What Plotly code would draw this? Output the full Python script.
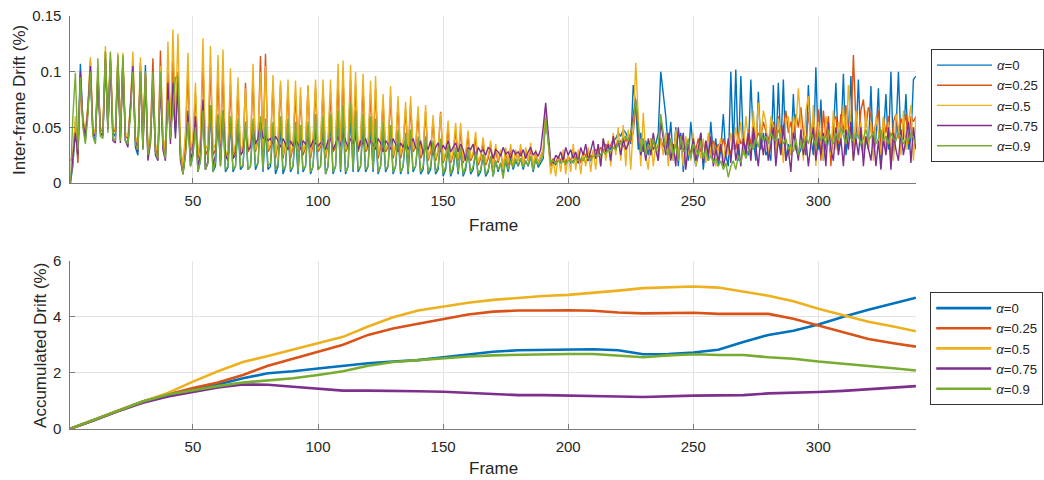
import plotly.graph_objects as go

# ---------------- data ----------------
alpha_labels = ["0", "0.25", "0.5", "0.75", "0.9"]
colors = ["#0072BD", "#D95319", "#EDB120", "#7E2F8E", "#77AC30"]

x_ticks = [50, 100, 150, 200, 250, 300]
top_y_ticks = [0, 0.05, 0.1, 0.15]
top_y_text = ["0", "0.05", "0.1", "0.15"]
bot_y_ticks = [0, 2, 4, 6]

# Inter-frame drift, in thousandths of a percent (frame 1, 2, 3, ...)
inter_a0 = [
    0, 15, 50, 22, 107, 55, 38, 65, 100, 45, 36, 95, 45, 42, 110, 48, 108, 45, 42, 110,
    40, 110, 38, 35, 65, 105, 32, 25, 105, 32, 106, 28, 38, 90, 28, 25, 95, 35, 25, 90,
    40, 80, 45, 88, 25, 8, 30, 65, 15, 25, 55, 10, 20, 70, 12, 18, 65, 10, 15, 60,
    15, 60, 10, 14, 55, 10, 15, 50, 12, 15, 55, 12, 15, 50, 12, 18, 55, 10, 50, 12,
    15, 48, 8, 15, 50, 8, 15, 48, 10, 15, 45, 8, 45, 10, 15, 50, 8, 15, 50, 12,
    15, 50, 8, 15, 55, 8, 15, 60, 10, 55, 8, 15, 60, 10, 55, 10, 15, 50, 10, 15,
    50, 10, 48, 8, 15, 45, 10, 15, 48, 8, 15, 42, 8, 15, 40, 8, 42, 10, 15, 38,
    8, 12, 40, 8, 12, 36, 8, 12, 38, 6, 12, 32, 6, 12, 30, 8, 30, 6, 12, 28,
    8, 12, 28, 6, 10, 25, 6, 10, 24, 6, 20, 10, 18, 8, 20, 10, 22, 12, 20, 15,
    22, 12, 20, 15, 24, 10, 22, 14, 18, 22, 60, 35, 15, 20, 16, 22, 18, 20, 16, 22,
    18, 20, 22, 18, 20, 24, 18, 22, 20, 25, 22, 28, 25, 30, 28, 35, 30, 38, 40, 45,
    42, 48, 45, 40, 35, 88, 70, 30, 45, 28, 38, 25, 40, 30, 35, 45, 100, 80, 60, 30,
    55, 20, 50, 15, 45, 10, 40, 20, 55, 30, 15, 25, 45, 12, 35, 20, 55, 25, 40, 15,
    30, 62, 25, 15, 100, 30, 102, 20, 96, 35, 30, 25, 93, 40, 20, 82, 30, 45, 25, 30,
    20, 88, 25, 90, 30, 93, 20, 35, 25, 80, 30, 25, 30, 40, 25, 88, 40, 25, 104, 30,
    75, 20, 35, 40, 25, 45, 90, 30, 40, 98, 25, 45, 96, 30, 40, 93, 35, 25, 40, 30,
    87, 25, 40, 85, 20, 40, 80, 30, 100, 25, 45, 100, 35, 40, 80, 30, 40, 93, 96,
]
inter_a025 = [
    20, 25, 55, 18, 90, 55, 45, 65, 110, 48, 45, 98, 48, 46, 118, 52, 112, 48, 46, 112,
    42, 112, 42, 40, 68, 110, 38, 30, 108, 36, 98, 25, 42, 112, 32, 22, 119, 40, 25, 100,
    45, 110, 50, 100, 30, 12, 40, 100, 28, 35, 80, 22, 35, 110, 25, 30, 105, 25, 30, 95,
    30, 100, 22, 28, 88, 22, 30, 85, 25, 30, 90, 28, 32, 95, 28, 38, 114, 28, 116, 28,
    32, 90, 22, 35, 88, 22, 35, 85, 22, 32, 80, 28, 78, 25, 32, 87, 22, 35, 85, 28,
    32, 85, 22, 35, 80, 28, 32, 90, 28, 95, 28, 32, 92, 28, 88, 28, 35, 85, 28, 32,
    80, 28, 85, 22, 32, 72, 28, 32, 78, 22, 32, 70, 22, 32, 66, 22, 70, 28, 32, 62,
    22, 28, 64, 20, 28, 56, 20, 28, 64, 18, 25, 50, 18, 25, 48, 20, 48, 18, 25, 42,
    20, 25, 40, 16, 22, 36, 16, 22, 34, 14, 30, 18, 28, 14, 28, 16, 30, 16, 28, 20,
    30, 16, 28, 20, 30, 14, 28, 18, 24, 28, 62, 38, 15, 22, 18, 24, 20, 26, 18, 24,
    20, 28, 22, 26, 18, 28, 24, 30, 22, 28, 30, 26, 32, 28, 35, 30, 34, 40, 30, 36,
    38, 32, 40, 35, 38, 45, 70, 50, 30, 40, 28, 35, 25, 38, 30, 28, 40, 32, 38, 28,
    40, 30, 35, 25, 42, 28, 35, 30, 25, 38, 30, 40, 28, 35, 30, 42, 32, 38, 30, 35,
    28, 40, 30, 35, 25, 42, 30, 45, 35, 40, 30, 48, 35, 50, 38, 45, 40, 55, 45, 38,
    50, 55, 40, 60, 35, 50, 65, 45, 55, 40, 62, 50, 68, 45, 30, 64, 40, 60, 35, 66,
    20, 65, 40, 60, 15, 55, 60, 35, 62, 45, 70, 50, 40, 115, 55, 40, 65, 75, 50, 68,
    60, 40, 55, 65, 30, 58, 45, 60, 20, 55, 62, 40, 58, 50, 62, 35, 60, 55, 60,
]
inter_a05 = [
    0, 20, 60, 25, 90, 60, 45, 70, 113, 50, 45, 100, 50, 48, 123, 55, 116, 50, 48, 117,
    45, 117, 45, 42, 70, 118, 42, 35, 113, 40, 100, 32, 45, 95, 35, 28, 105, 42, 30, 127,
    50, 138, 55, 134, 35, 15, 45, 117, 30, 40, 90, 25, 40, 130, 30, 35, 123, 30, 35, 115,
    35, 120, 25, 30, 103, 25, 35, 95, 28, 35, 85, 30, 35, 107, 30, 40, 100, 30, 105, 30,
    35, 97, 25, 40, 92, 25, 38, 93, 25, 35, 92, 30, 86, 28, 35, 88, 25, 40, 93, 30,
    35, 93, 25, 40, 93, 30, 35, 107, 30, 110, 30, 35, 106, 30, 100, 30, 40, 98, 30, 35,
    92, 30, 96, 25, 35, 80, 30, 35, 87, 25, 35, 78, 25, 35, 73, 25, 78, 30, 35, 69,
    25, 30, 70, 22, 30, 61, 22, 30, 63, 20, 28, 56, 20, 28, 54, 22, 54, 20, 28, 47,
    22, 28, 46, 18, 25, 41, 18, 25, 38, 15, 35, 20, 30, 12, 32, 18, 35, 15, 30, 20,
    35, 15, 32, 20, 36, 12, 30, 18, 25, 30, 68, 40, 8, 20, 6, 25, 10, 30, 8, 25,
    10, 35, 12, 30, 8, 28, 15, 32, 10, 30, 12, 35, 15, 40, 20, 38, 15, 45, 25, 50,
    20, 52, 15, 48, 12, 50, 108, 60, 15, 63, 25, 12, 40, 15, 35, 20, 40, 25, 45, 15,
    40, 20, 48, 25, 38, 15, 42, 28, 20, 45, 15, 35, 22, 40, 18, 45, 25, 35, 15, 30,
    40, 20, 35, 25, 45, 30, 50, 35, 55, 25, 60, 40, 20, 65, 35, 72, 40, 65, 55, 20,
    60, 50, 25, 58, 45, 18, 55, 60, 25, 60, 50, 85, 55, 20, 65, 78, 30, 70, 15, 55,
    40, 20, 60, 45, 25, 65, 30, 55, 40, 70, 35, 88, 50, 20, 65, 40, 55, 25, 65, 30,
    55, 20, 60, 45, 25, 60, 30, 55, 40, 20, 62, 50, 25, 65, 30, 55, 70, 20, 60,
]
inter_a075 = [
    0, 20, 45, 25, 100, 55, 42, 65, 105, 45, 42, 95, 45, 43, 112, 48, 110, 38, 36, 108,
    36, 110, 38, 32, 65, 105, 38, 28, 100, 30, 95, 20, 35, 95, 25, 20, 90, 30, 20, 90,
    35, 90, 40, 90, 20, 8, 25, 60, 20, 30, 60, 15, 25, 75, 12, 20, 70, 15, 25, 60,
    20, 65, 25, 20, 55, 22, 25, 50, 25, 28, 48, 30, 32, 50, 35, 40, 55, 40, 42, 38,
    40, 35, 42, 38, 32, 40, 35, 30, 38, 33, 40, 35, 30, 38, 35, 40, 32, 38, 35, 33,
    36, 35, 30, 38, 40, 30, 35, 42, 33, 45, 38, 32, 40, 35, 42, 30, 38, 35, 40, 32,
    38, 35, 30, 40, 36, 28, 38, 35, 30, 40, 35, 28, 36, 32, 38, 30, 35, 40, 32, 30,
    38, 26, 35, 30, 38, 25, 32, 36, 28, 34, 30, 38, 28, 32, 36, 28, 35, 30, 20, 32,
    30, 35, 22, 32, 28, 30, 25, 32, 30, 22, 30, 28, 24, 32, 26, 28, 22, 30, 26, 28,
    24, 30, 22, 28, 32, 25, 28, 24, 30, 50, 72, 45, 20, 18, 25, 22, 28, 20, 32, 25,
    30, 22, 28, 18, 32, 25, 35, 20, 30, 38, 22, 35, 15, 40, 28, 35, 20, 42, 30, 38,
    25, 40, 30, 35, 45, 60, 75, 45, 25, 35, 20, 40, 25, 45, 30, 20, 55, 40, 25, 45,
    20, 35, 15, 50, 30, 45, 12, 35, 25, 40, 20, 30, 45, 18, 38, 25, 42, 15, 30, 20,
    35, 15, 25, 40, 18, 45, 20, 35, 15, 40, 25, 45, 20, 50, 30, 15, 42, 25, 45, 20,
    35, 50, 15, 40, 25, 52, 20, 30, 10, 45, 35, 20, 48, 25, 40, 15, 35, 50, 20, 40,
    25, 45, 15, 55, 30, 20, 50, 25, 40, 15, 48, 30, 55, 20, 40, 25, 50, 15, 42, 30,
    20, 45, 15, 38, 12, 40, 25, 50, 12, 45, 30, 20, 48, 25, 40, 55, 18, 50, 30,
]
inter_a09 = [
    0, 60, 99, 30, 95, 50, 35, 60, 100, 42, 35, 112, 42, 40, 118, 45, 118, 40, 38, 115,
    38, 115, 38, 35, 60, 100, 35, 30, 100, 30, 100, 25, 35, 100, 28, 22, 100, 35, 22, 75,
    40, 65, 95, 95, 25, 8, 25, 55, 15, 25, 50, 10, 20, 65, 12, 18, 70, 10, 20, 62,
    15, 65, 12, 15, 60, 12, 15, 58, 15, 15, 55, 12, 15, 58, 15, 18, 60, 12, 58, 15,
    18, 55, 12, 18, 60, 12, 15, 58, 12, 15, 55, 10, 52, 12, 15, 55, 10, 15, 62, 12,
    15, 60, 8, 15, 62, 10, 15, 65, 12, 70, 10, 15, 72, 12, 65, 12, 15, 62, 12, 15,
    60, 12, 58, 10, 15, 55, 12, 15, 52, 10, 15, 48, 10, 15, 45, 10, 48, 12, 15, 42,
    10, 15, 42, 10, 15, 38, 10, 15, 40, 8, 15, 35, 8, 15, 32, 10, 32, 8, 15, 30,
    10, 15, 28, 8, 12, 26, 8, 12, 24, 6, 20, 12, 18, 4, 22, 12, 20, 14, 22, 16,
    22, 14, 20, 16, 24, 12, 22, 16, 20, 25, 58, 40, 18, 20, 18, 20, 18, 20, 18, 20,
    20, 18, 22, 20, 22, 20, 24, 22, 22, 24, 25, 24, 26, 28, 26, 30, 28, 32, 30, 38,
    35, 40, 42, 38, 45, 55, 75, 50, 28, 40, 25, 35, 30, 40, 28, 35, 62, 45, 30, 25,
    40, 25, 35, 20, 42, 28, 30, 40, 22, 35, 30, 25, 38, 22, 30, 20, 25, 18, 22, 15,
    20, 12, 18, 5, 15, 20, 12, 25, 18, 30, 22, 28, 35, 30, 40, 32, 45, 38, 42, 35,
    45, 40, 38, 48, 42, 35, 40, 30, 35, 28, 40, 25, 38, 30, 42, 35, 45, 40, 32, 45,
    38, 42, 35, 48, 40, 35, 45, 38, 50, 42, 35, 48, 40, 38, 45, 42, 35, 40, 48, 38,
    42, 45, 35, 40, 48, 38, 42, 35, 45, 40, 38, 45, 42, 35, 40, 38, 45, 40, 35,
]

# Accumulated drift (%) read at these frames
accum_frames = [1, 10, 20, 30, 40, 50, 60, 70, 80, 90, 100, 110, 120, 130, 140, 150,
                160, 170, 180, 190, 200, 210, 220, 230, 240, 250, 260, 270, 280, 290,
                300, 310, 320, 330, 339]
accum_a0 = [0, 0.30, 0.65, 0.97, 1.22, 1.42, 1.58, 1.80, 1.98, 2.05, 2.15, 2.25, 2.34,
            2.40, 2.45, 2.55, 2.65, 2.75, 2.80, 2.82, 2.83, 2.84, 2.80, 2.66, 2.67, 2.72,
            2.82, 3.10, 3.35, 3.50, 3.72, 4.00, 4.25, 4.48, 4.68]
accum_a025 = [0, 0.30, 0.65, 0.97, 1.22, 1.45, 1.65, 1.92, 2.25, 2.50, 2.75, 3.00, 3.35,
              3.58, 3.75, 3.92, 4.08, 4.18, 4.22, 4.22, 4.23, 4.21, 4.15, 4.12, 4.13, 4.14,
              4.10, 4.10, 4.10, 3.93, 3.68, 3.45, 3.20, 3.05, 2.93]
accum_a05 = [0, 0.30, 0.65, 0.97, 1.28, 1.68, 2.05, 2.38, 2.60, 2.82, 3.05, 3.28, 3.65,
             3.98, 4.22, 4.35, 4.50, 4.60, 4.68, 4.74, 4.78, 4.85, 4.93, 5.02, 5.06, 5.08,
             5.04, 4.90, 4.75, 4.55, 4.28, 4.05, 3.82, 3.65, 3.48]
accum_a075 = [0, 0.28, 0.62, 0.93, 1.15, 1.32, 1.47, 1.58, 1.57, 1.50, 1.44, 1.36, 1.36,
              1.36, 1.34, 1.32, 1.28, 1.22, 1.20, 1.20, 1.19, 1.17, 1.15, 1.13, 1.16, 1.18,
              1.19, 1.20, 1.26, 1.28, 1.31, 1.35, 1.40, 1.46, 1.52]
accum_a09 = [0, 0.30, 0.65, 0.97, 1.22, 1.38, 1.52, 1.65, 1.72, 1.80, 1.92, 2.05, 2.25,
             2.38, 2.45, 2.52, 2.58, 2.62, 2.64, 2.66, 2.67, 2.67, 2.60, 2.55, 2.62, 2.66,
             2.63, 2.63, 2.55, 2.50, 2.40, 2.33, 2.24, 2.16, 2.08]

inter_series = [inter_a0, inter_a025, inter_a05, inter_a075, inter_a09]
accum_series = [accum_a0, accum_a025, accum_a05, accum_a075, accum_a09]

# ---------------- figure ----------------
W, H = 1044, 480
FONT = "Liberation Sans, Arial, Helvetica, sans-serif"
TXT = "#262626"

fig = go.Figure()

for lab, col, vals in zip(alpha_labels, colors, inter_series):
    fig.add_trace(go.Scatter(
        x=list(range(1, len(vals) + 1)), y=[v * 0.001 for v in vals],
        mode="lines", line=dict(color=col, width=1.4),
        name="<i>α</i>=" + lab, xaxis="x", yaxis="y", legend="legend"))

for lab, col, vals in zip(alpha_labels, colors, accum_series):
    fig.add_trace(go.Scatter(
        x=accum_frames, y=vals,
        mode="lines", line=dict(color=col, width=2.6),
        name="<i>α</i>=" + lab, xaxis="x2", yaxis="y2", legend="legend2"))

x0, x1 = 70.5 / W, 917.7 / W
top_dom = [1 - 183 / H, 1 - 16 / H]
bot_dom = [1 - 428.7 / H, 1 - 260.7 / H]

axis_common = dict(
    showgrid=True, gridcolor="#e3e3e3", gridwidth=1,
    showline=True, linecolor="#7a7a7a", linewidth=1,
    ticks="inside", ticklen=5, tickcolor="#7a7a7a",
    tickfont=dict(family=FONT, size=15, color=TXT),
    zeroline=False, automargin=False,
)

legend_common = dict(
    bgcolor="white", bordercolor="#333333", borderwidth=1,
    font=dict(family=FONT, size=13.2, color=TXT),
    xanchor="left", yanchor="top", itemwidth=55,
    tracegroupgap=0,
)

title_font = dict(family=FONT, size=17, color=TXT)

fig.update_layout(
    width=W, height=H,
    margin=dict(l=0, r=0, t=0, b=0),
    paper_bgcolor="white", plot_bgcolor="white",
    showlegend=True,
    xaxis=dict(domain=[x0, x1], range=[1, 339], tickvals=x_ticks, anchor="y",
               ticklabelstandoff=4, **axis_common),
    yaxis=dict(domain=top_dom, range=[0, 0.15], tickvals=top_y_ticks,
               ticktext=top_y_text, anchor="x", ticklabelstandoff=5, **axis_common),
    xaxis2=dict(domain=[x0, x1], range=[1, 339], tickvals=x_ticks, anchor="y2",
                ticklabelstandoff=4, **axis_common),
    yaxis2=dict(domain=bot_dom, range=[0, 6], tickvals=bot_y_ticks, anchor="x2",
                ticklabelstandoff=5, **axis_common),
    legend=dict(x=933 / W, y=1 - 49 / H, **legend_common),
    legend2=dict(x=932 / W, y=1 - 292 / H, **legend_common),
    annotations=[
        dict(text="Frame", x=494 / W, y=1 - 225 / H, xref="paper", yref="paper",
             xanchor="center", yanchor="middle", showarrow=False, font=title_font),
        dict(text="Frame", x=494 / W, y=1 - 468 / H, xref="paper", yref="paper",
             xanchor="center", yanchor="middle", showarrow=False, font=title_font),
        dict(text="Inter-frame Drift (%)", x=19 / W, y=1 - 100 / H, xref="paper",
             yref="paper", xanchor="center", yanchor="middle", showarrow=False,
             textangle=-90, font=title_font),
        dict(text="Accumulated Drift (%)", x=40 / W, y=1 - 345 / H, xref="paper",
             yref="paper", xanchor="center", yanchor="middle", showarrow=False,
             textangle=-90, font=title_font),
    ],
)

fig.write_html("out.html", config={"displayModeBar": False},
               post_script="document.body.style.margin='0px';")
